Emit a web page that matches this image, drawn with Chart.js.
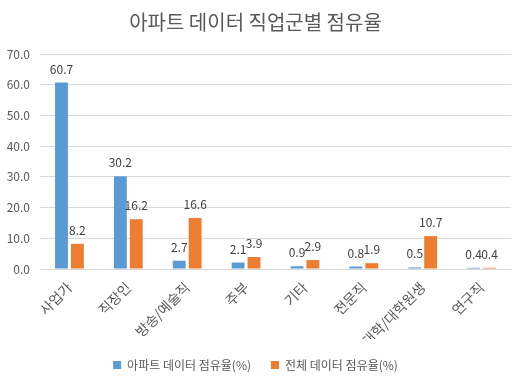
<!DOCTYPE html>
<html><head><meta charset="utf-8">
<script src="https://cdn.jsdelivr.net/npm/chart.js@4/dist/chart.umd.min.js"></script>
<style>html,body{margin:0;padding:0;background:#fff}#w{width:521px;height:381px}</style>
</head><body><div id="w"><canvas id="c"></canvas></div>
<script>
const categories = ['사업가','직장인','방송/예술직','주부','기타','전문직','대학/대학원생','연구직'];
const apartShare = [60.7,30.2,2.7,2.1,0.9,0.8,0.5,0.4];
const totalShare = [8.2,16.2,16.6,3.9,2.9,1.9,10.7,0.4];
const yTicks = [0,10,20,30,40,50,60,70];
const FONT = '"Noto Sans CJK KR", "Noto Sans", sans-serif';

const labelPlugin = {
  id: 'valueLabels',
  afterDatasetsDraw(chart) {
    const ctx = chart.ctx;
    ctx.save();
    ctx.font = '12px ' + FONT;
    ctx.fillStyle = '#404040';
    ctx.textAlign = 'center';
    ctx.textBaseline = 'alphabetic';
    chart.data.datasets.forEach((ds, i) => {
      const meta = chart.getDatasetMeta(i);
      meta.data.forEach((el, j) => {
        ctx.fillText(ds.data[j].toFixed(1), el.x, el.y - 9);
      });
    });
    ctx.restore();
  }
};

new Chart(document.getElementById('c'), {
  type: 'bar',
  data: {
    labels: categories,
    datasets: [
      {label: '아파트 데이터 점유율(%)', data: apartShare, backgroundColor: '#5b9bd5', categoryPercentage: 0.54, barPercentage: 0.81},
      {label: '전체 데이터 점유율(%)', data: totalShare, backgroundColor: '#ed7d31', categoryPercentage: 0.54, barPercentage: 0.81}
    ]
  },
  options: {
    responsive: true, maintainAspectRatio: false, animation: false,
    layout: {padding: {left: 0, right: 10, top: 0, bottom: 0}},
    plugins: {
      title: {display: true, text: '아파트 데이터 직업군별 점유율', color: '#595959', font: {family: FONT, size: 20, weight: 'normal'}, padding: {top: 10, bottom: 20}},
      legend: {position: 'bottom', labels: {boxWidth: 8, boxHeight: 8, padding: 20, color: '#595959', font: {family: FONT, size: 12}}},
      tooltip: {enabled: false}
    },
    scales: {
      x: {
        grid: {display: false},
        border: {color: '#d9d9d9'},
        afterFit(s) { s.height = 70; },
        ticks: {color: '#595959', font: {family: FONT, size: 14}, minRotation: 45, maxRotation: 45, padding: 2}
      },
      y: {
        min: 0, max: 70,
        afterBuildTicks(s) { s.ticks = yTicks.map(v => ({value: v})); },
        afterFit(s) { s.width = 40; },
        grid: {color: '#d9d9d9', drawTicks: false},
        border: {display: false},
        ticks: {color: '#595959', font: {family: FONT, size: 12}, padding: 10, callback: v => Number(v).toFixed(1)}
      }
    }
  },
  plugins: [labelPlugin]
});
</script></body></html>
